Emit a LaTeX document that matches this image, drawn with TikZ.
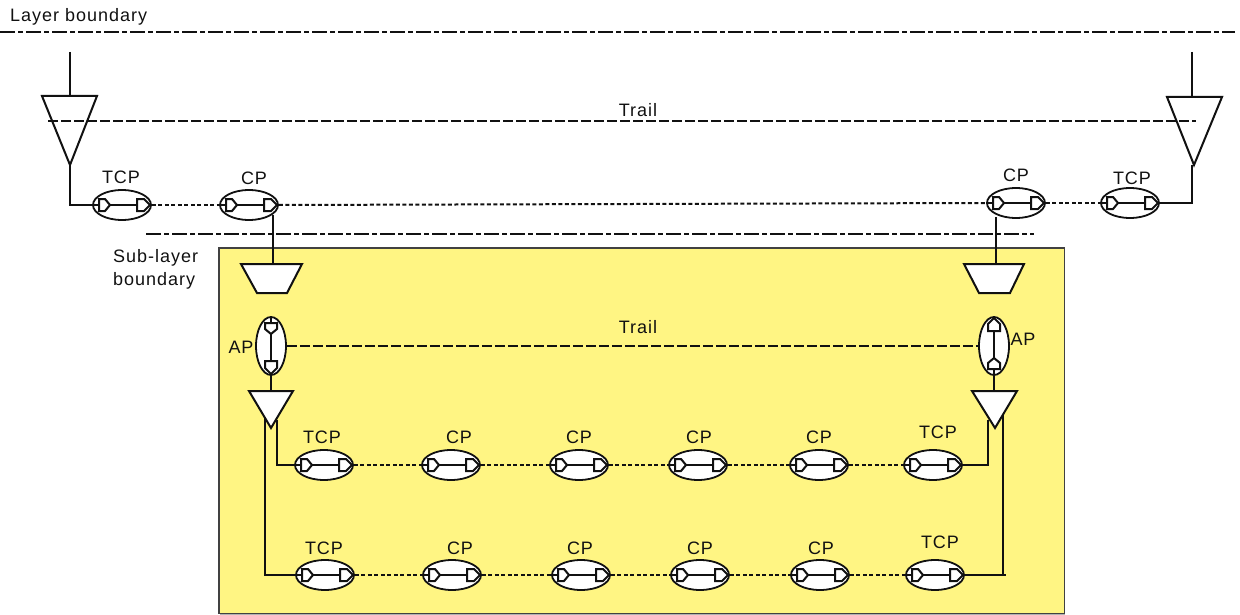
\documentclass[tikz,border=0pt]{standalone}
\usepackage{fontspec}
\setmainfont{Liberation Sans}[LetterSpace=5.5]
\usetikzlibrary{shapes.geometric}
\definecolor{paneyellow}{HTML}{FFF583}
\definecolor{ink}{HTML}{111111}
\tikzset{
  x=1pt,y=-1pt,
  wire/.style={draw=ink,line width=2pt},
  shapeline/.style={draw=ink,line width=2pt,fill=white,line join=miter},
  dotline/.style={draw=ink,line width=2pt,dash pattern=on 4pt off 2.5pt},
  trailline/.style={draw=ink,line width=2pt,dash pattern=on 10pt off 3pt},
  boundary/.style={draw=ink,line width=2pt,dash pattern=on 15pt off 3pt on 5pt off 3pt},
  hport/.style={ellipse,draw=ink,line width=1.8pt,fill=white,minimum width=58pt,minimum height=30pt,inner sep=0pt},
  vport/.style={ellipse,draw=ink,line width=1.8pt,fill=white,minimum width=30pt,minimum height=58pt,inner sep=0pt},
  lab/.style={font=\fontsize{18}{23}\selectfont,text=ink,inner sep=0pt},
}
% glyph drawn inside a connection point: two pentagons joined by a line
\newcommand{\portglyph}[3]{%
  \begin{scope}[shift={(#1,#2)},rotate=#3]
    \draw[wire] (-29,0) -- (-23,0);
    \draw[wire] (-12,0) -- (15,0);
    \draw[wire] (-23,-6) -- (-17,-6) -- (-12,0) -- (-17,6) -- (-23,6) -- cycle;
    \draw[wire] (15,-6) -- (22,-6) -- (28,0) -- (22,6) -- (15,6) -- cycle;
  \end{scope}}
\newcommand{\hp}[6]{%
  \node[hport] (#1) at (#2,#3) {};
  \portglyph{#2}{#3}{0}
  \node[lab] (#1-lab) at (#5,#6) {#4};}
\begin{document}
\begin{tikzpicture}
\useasboundingbox (0,0) rectangle (1240,615);
% yellow pane
\fill[gray!60] (219.5,248.5) rectangle (1065,614.5);
\node[draw=ink!80,line width=1.5pt,fill=paneyellow,minimum width=845.5pt,minimum height=365.5pt,inner sep=0pt,anchor=north west] (pane) at (218,247) {};

% boundaries
\coordinate (lb1) at (0,32);
\coordinate (lb2) at (1235,32);
\draw[boundary] (lb1) -- (lb2);
\node[lab,anchor=west] (lbt) at (10,17) {Layer boundary};
\coordinate (sb1) at (146,234);
\coordinate (sb2) at (1034,234);
\draw[boundary] (sb1) -- (sb2);
\node[lab,anchor=west,align=left] (sbt) at (113,269) {Sub-layer\\boundary};

% top triangles
\coordinate (tlin) at (70,52);
\coordinate (tltop) at (70,96);
\coordinate (tltip) at (70,165);
\draw[shapeline] (42,96) -- (97,96) -- (tltip) -- cycle;
\draw[wire] (tlin) -- (tltop);
\coordinate (trin) at (1192,52);
\coordinate (trtop) at (1192,97);
\coordinate (trtip) at (1194,165);
\draw[shapeline] (1167,97) -- (1222,97) -- (trtip) -- cycle;
\draw[wire] (trin) -- (trtop);
% upper trail
\coordinate (t1a) at (48,121);
\coordinate (t1b) at (1196,121);
\draw[trailline] (t1a) -- (t1b);
\node[lab] (t1) at (638,110) {Trail};

% top row
\hp{a1}{122}{205}{TCP}{121}{177}
\hp{a2}{249}{205}{CP}{254}{178}
\hp{a3}{1016}{203}{CP}{1016}{175}
\hp{a4}{1130}{203}{TCP}{1132}{178}
\draw[wire] (tltip) -- (70,205) -- (a1.west);
\draw[wire] (trtip -| trin) -- (trin |- a4.east) -- (a4.east);
\draw[dotline] (a1.east) -- (a2.west);
\draw[dotline] (a2.east) -- (a3.west);
\draw[dotline] (a3.east) -- (a4.west);

% trapezoids
\coordinate (zltop) at (273,264);
\coordinate (zrtop) at (996,264);
\draw[shapeline] (241,264) -- (302,264) -- (287,293) -- (257,293) -- cycle;
\draw[shapeline] (964,264) -- (1024,264) -- (1010,293) -- (979,293) -- cycle;
\draw[wire] (273,215) -- (zltop);
\draw[wire] (996,217) -- (zrtop);

% AP
\node[vport] (apl) at (271,346) {};
\portglyph{271}{346}{-90}
\node[vport] (apr) at (994,346) {};
\portglyph{994}{346}{90}
\node[lab] (aplt) at (241,347) {AP};
\node[lab] (aprt) at (1023,339) {AP};
\draw[trailline] (apl.east) -- (apr.west);
\node[lab] (t2) at (638,327) {Trail};

% lower triangles
\coordinate (ltop) at (271,391);
\coordinate (rtop) at (994,391);
\draw[wire] (apl.south) -- (ltop);
\draw[wire] (apr.south) -- (rtop);

% rows
\hp{b1}{324}{465}{TCP}{322}{437}
\hp{b2}{451}{465}{CP}{459}{437}
\hp{b3}{579}{465}{CP}{579}{437}
\hp{b4}{698}{465}{CP}{699}{437}
\hp{b5}{819}{465}{CP}{819}{437}
\hp{b6}{933}{465}{TCP}{938}{432}
\hp{c1}{325}{575}{TCP}{324}{548}
\hp{c2}{452}{575}{CP}{460}{548}
\hp{c3}{581}{575}{CP}{580}{548}
\hp{c4}{700}{575}{CP}{700}{548}
\hp{c5}{820}{575}{CP}{821}{548}
\hp{c6}{935}{575}{TCP}{940}{542}
\foreach \r in {b,c}{
  \draw[dotline] (\r1.east) -- (\r2.west);
  \draw[dotline] (\r2.east) -- (\r3.west);
  \draw[dotline] (\r3.east) -- (\r4.west);
  \draw[dotline] (\r4.east) -- (\r5.west);
  \draw[dotline] (\r5.east) -- (\r6.west);
}
\draw[wire] (277,420) -- (277,465) -- (b1.west);
\draw[wire] (265,410) -- (265,575) -- (c1.west);
\draw[wire] (988,420) -- (988,465) -- (b6.east);
\draw[wire] (1003,410) -- (1003,575) -- (c6.east);
\draw[wire] (1003,575) -- (1006,575);
\draw[shapeline] (249,391) -- (293,391) -- (271,428) -- cycle;
\draw[shapeline] (972,391) -- (1017,391) -- (995,428) -- cycle;
\end{tikzpicture}
\end{document}
